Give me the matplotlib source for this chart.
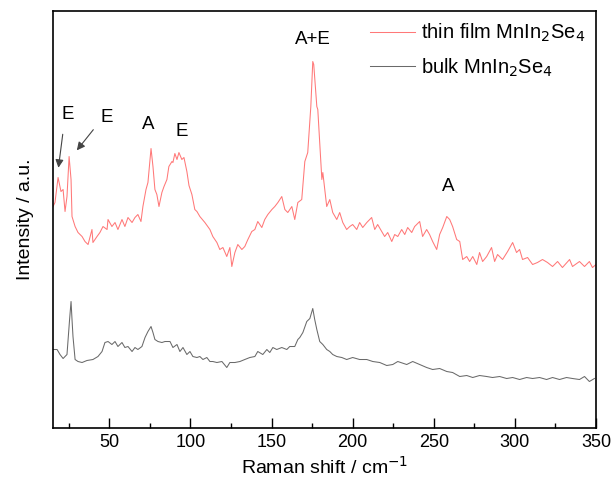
import matplotlib.pyplot as plt
from matplotlib.ticker import MultipleLocator

plt.rcParams['font.family'] = ['Liberation Sans', 'DejaVu Sans']

# Raman shift (cm-1) and intensity (a.u.) for the thin film
film_shift = [15.0, 16.5, 18.4, 20.2, 21.5, 22.7, 23.9, 25.2, 26.4, 27.0, 28.9, 30.7, 33.2, 35.0,
              36.9, 39.3, 39.9, 42.4, 44.2, 46.1, 48.6, 49.2, 51.6, 53.5, 55.3, 57.8, 59.6, 61.5,
              64.0, 65.8, 67.6, 69.5, 70.7, 72.6, 73.8, 75.7, 76.9, 78.1, 79.3, 80.6, 82.4, 83.7,
              85.5, 86.7, 88.6, 89.2, 90.4, 91.7, 92.9, 94.7, 96.0, 97.8, 99.1, 100.9, 102.7, 104.0,
              105.8, 108.9, 112.0, 113.8, 116.3, 118.1, 120.0, 122.4, 124.3, 125.5, 127.4, 129.2,
              131.7, 133.5, 135.4, 137.8, 139.7, 141.5, 144.0, 145.8, 147.7, 150.2, 152.0, 153.9,
              156.3, 158.2, 160.0, 162.5, 164.3, 166.2, 168.6, 170.5, 172.3, 174.2, 175.4, 176.0,
              177.9, 178.5, 181.0, 181.6, 184.0, 185.9, 187.7, 190.2, 192.0, 193.9, 196.3, 198.2,
              200.0, 202.5, 204.3, 206.2, 208.7, 211.7, 213.6, 215.4, 217.9, 219.7, 221.6, 224.1,
              225.9, 227.8, 230.2, 232.1, 233.9, 236.4, 238.2, 241.3, 243.1, 245.6, 247.4, 249.3,
              251.8, 253.6, 255.5, 258.0, 259.8, 261.6, 264.1, 266.0, 267.8, 270.3, 272.1, 274.0,
              276.5, 278.2, 280.1, 282.6, 285.6, 287.5, 289.3, 292.4, 295.5, 298.6, 301.0, 302.9,
              304.7, 307.8, 310.9, 313.9, 317.0, 320.1, 323.2, 326.3, 329.3, 333.7, 335.5, 339.8,
              342.9, 345.9, 347.8, 350.0]
film_int = [220, 225, 250, 236, 238, 216, 231, 271, 248, 211, 201, 195, 191, 186,
            183, 198, 185, 191, 195, 201, 198, 208, 201, 205, 198, 208, 201, 210,
            205, 210, 213, 206, 221, 238, 245, 279, 261, 238, 233, 221, 235, 241,
            248, 261, 266, 265, 274, 268, 275, 268, 270, 256, 242, 233, 218, 216,
            211, 205, 198, 191, 185, 178, 180, 171, 180, 161, 175, 183,
            178, 181, 188, 196, 198, 206, 200, 208, 213, 218, 221, 225,
            231, 218, 215, 221, 208, 225, 228, 266, 275, 321, 366, 363,
            321, 318, 248, 255, 221, 228, 215, 208, 215, 205, 198, 201,
            203, 198, 205, 200, 205, 210, 198, 203, 196, 191, 195, 186,
            193, 191, 198, 193, 200, 195, 201, 206, 191, 198, 193, 186,
            178, 193, 200, 211, 208, 201, 188, 186, 168, 171, 166, 171,
            163, 175, 166, 171, 180, 166, 173, 168, 176, 185, 175, 178,
            168, 170, 163, 165, 168, 165, 161, 166, 160, 168, 161, 166,
            161, 166, 160, 163]

# Raman shift (cm-1) and intensity (a.u.) for the bulk crystal
bulk_shift = [15.0, 17.8, 19.6, 21.5, 23.9, 25.5, 26.4, 27.0, 27.6, 28.9, 30.7, 33.2, 36.2, 39.9,
              43.0, 45.5, 47.3, 49.2, 51.6, 53.5, 55.3, 57.8, 59.6, 61.5, 64.0, 65.8, 67.6, 70.1,
              72.0, 73.8, 75.7, 76.9, 78.1, 80.0, 82.4, 84.3, 87.4, 89.2, 91.7, 93.5, 95.4, 97.8,
              99.7, 101.5, 104.0, 105.8, 107.7, 110.1, 112.0, 113.8, 116.3, 119.4, 122.4, 124.3,
              127.4, 130.5, 133.5, 136.6, 139.7, 141.5, 144.6, 147.1, 148.9, 150.8, 153.2, 156.3,
              159.4, 161.2, 164.3, 166.2, 167.4, 169.3, 171.7, 173.6, 175.4, 176.6, 177.9, 179.7,
              181.6, 184.0, 185.9, 187.7, 190.2, 193.3, 196.3, 200.0, 204.3, 208.7, 212.4, 216.7,
              221.0, 224.7, 227.8, 233.3, 237.0, 241.3, 245.6, 249.3, 253.6, 258.0, 261.6, 266.0,
              270.3, 274.0, 278.2, 282.6, 286.2, 290.6, 294.9, 298.6, 302.9, 307.2, 310.9, 315.2,
              319.5, 323.2, 327.5, 331.8, 335.5, 339.8, 342.9, 345.9, 349.0]
bulk_int = [78, 78, 73, 69, 73, 108, 126, 108, 91, 68, 66, 65, 67, 68,
            71, 76, 85, 86, 83, 86, 81, 85, 80, 81, 76, 80, 78, 81,
            90, 96, 101, 95, 88, 86, 85, 86, 86, 80, 83, 76, 80, 73,
            76, 71, 70, 71, 68, 70, 66, 66, 65, 66, 60, 65,
            65, 66, 68, 70, 71, 76, 73, 78, 75, 80, 78, 80,
            78, 81, 81, 88, 90, 95, 106, 109, 119, 108, 98, 86,
            83, 78, 76, 73, 71, 70, 68, 70, 68, 68, 66, 65,
            62, 63, 66, 63, 66, 63, 60, 58, 59, 56, 55, 51,
            52, 50, 52, 51, 50, 51, 49, 50, 48, 50, 49, 50,
            48, 50, 48, 50, 49, 48, 51, 46, 49]

# peak assignments: (label, shift, height)
peak_labels = ['E', 'E', 'A', 'E', 'A+E', 'A']
peak_x = [24.5, 48.6, 73.8, 94.7, 175.4, 259.0]
peak_y = [313, 310, 303, 296, 388, 241]

fig = plt.figure(figsize=(6.11, 4.79), dpi=100)
ax = fig.add_axes([0.086, 0.1075, 0.8895, 0.8695])

ax.plot(film_shift, film_int, color='#ff7878', lw=0.75, label='thin film MnIn$_2$Se$_4$')
ax.plot(bulk_shift, bulk_int, color='#6a6a6a', lw=0.75, label='bulk MnIn$_2$Se$_4$')

for lab, px, py in zip(peak_labels, peak_x, peak_y):
    ax.text(px, py, lab, ha='center', va='center', fontsize=13.5)

arrow = dict(arrowstyle='-|>', color='#444444', lw=0.8, mutation_scale=12)
ax.annotate('', xy=(18.4, 257), xytext=(21.5, 296), arrowprops=arrow)
ax.annotate('', xy=(28.9, 275), xytext=(41.2, 300), arrowprops=arrow)

ax.set_xlim(15, 350)
ax.set_ylim(0, 416.5)
ax.set_yticks([])
ax.xaxis.set_major_locator(MultipleLocator(50))
ax.xaxis.set_minor_locator(MultipleLocator(25))
ax.tick_params(axis='x', which='major', direction='in', length=7, width=1, labelsize=13, pad=5)
ax.tick_params(axis='x', which='minor', direction='in', length=3.5, width=1)
for sp in ax.spines.values():
    sp.set_linewidth(1.2)

ax.set_xlabel('Raman shift / cm$^{-1}$', fontsize=14, labelpad=3)
ax.set_ylabel('Intensity / a.u.', fontsize=14, labelpad=13)

ax.legend(loc='upper right', frameon=False, fontsize=14.5, handlelength=2.2,
          handletextpad=0.3, labelspacing=0.6, bbox_to_anchor=(1.0, 1.0), borderaxespad=0.15)

fig.savefig('out.png', dpi=100)
